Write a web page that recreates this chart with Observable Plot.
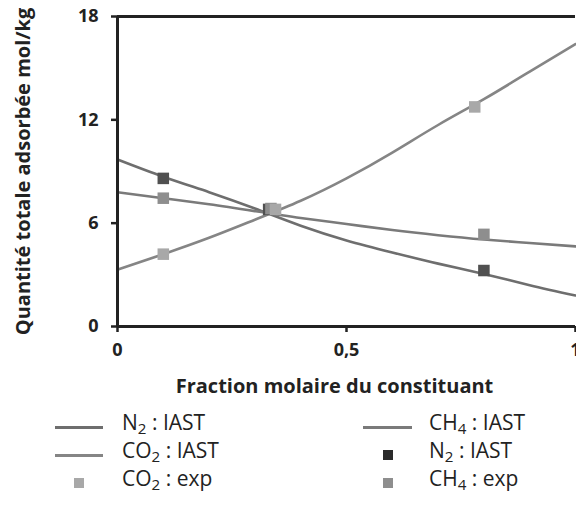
<!DOCTYPE html>
<html>
<head>
<meta charset="utf-8">
<script src="https://cdn.jsdelivr.net/npm/d3@7"></script>
<script src="https://cdn.jsdelivr.net/npm/@observablehq/plot@0.6"></script>
<style>
  body { margin: 0; background: #fff; font-family: "Open Sans", sans-serif; }
  #wrap { position: relative; width: 576px; height: 507px; overflow: hidden; }
  .lg { position: absolute; font-size: 21px; color: #222; line-height: 1; white-space: nowrap; }
  .lg sub { font-size: 0.72em; vertical-align: -0.25em; line-height: 0; }
  .ln { position: absolute; height: 3px; background: #777; }
  .sq { position: absolute; width: 10px; height: 10px; }
</style>
</head>
<body>
<div id="wrap"></div>
<script>
// x = fraction molaire du constituant
const xs = [0, 0.1, 0.2, 0.3, 0.4, 0.5, 0.6, 0.7, 0.8, 0.9, 1];
// IAST curves
const n2Iast  = [9.7, 8.7, 7.8, 6.85, 5.85, 5.0, 4.3, 3.65, 3.05, 2.4, 1.8];
const ch4Iast = [7.8, 7.45, 7.1, 6.7, 6.3, 5.95, 5.6, 5.3, 5.05, 4.85, 4.65];
const co2Iast = [3.3, 4.2, 5.15, 6.2, 7.3, 8.6, 10.1, 11.7, 13.2, 14.8, 16.4];
// experimental points
const n2ExpX  = [0.1, 0.33, 0.8];
const n2ExpY  = [8.6, 6.8, 3.25];
const ch4ExpX = [0.1, 0.335, 0.8];
const ch4ExpY = [7.45, 6.85, 5.35];
const co2ExpX = [0.1, 0.345, 0.78];
const co2ExpY = [4.2, 6.8, 12.75];
// ticks
const yTicks = [0, 6, 12, 18];
const xTicks = [0, 0.5, 1];
const xTickLabels = ["0", "0,5", "1"];

const toPts = (X, Y) => X.map((x, i) => ({x, y: Y[i]}));

const font = "Open Sans, sans-serif";
const plot = Plot.plot({
  width: 576,
  height: 400,
  marginLeft: 117,
  marginRight: 1,
  marginTop: 16,
  marginBottom: 74,
  style: {fontFamily: font, background: "#fff", overflow: "visible"},
  x: {domain: [0, 1]},
  y: {domain: [0, 18]},
  marks: [
    Plot.line(toPts(xs, n2Iast), {x: "x", y: "y", curve: "natural", stroke: "#6e6e6e", strokeWidth: 2.6}),
    Plot.line(toPts(xs, ch4Iast), {x: "x", y: "y", curve: "natural", stroke: "#7a7a7a", strokeWidth: 2.6}),
    Plot.line(toPts(xs, co2Iast), {x: "x", y: "y", curve: "natural", stroke: "#858585", strokeWidth: 2.6}),
    Plot.dot(toPts(n2ExpX, n2ExpY), {x: "x", y: "y", symbol: "square", r: 6.5, fill: "#505050"}),
    Plot.dot(toPts(ch4ExpX, ch4ExpY), {x: "x", y: "y", symbol: "square", r: 6.5, fill: "#8e8e8e"}),
    Plot.dot(toPts(co2ExpX, co2ExpY), {x: "x", y: "y", symbol: "square", r: 6.5, fill: "#a8a8a8"}),
    Plot.ruleY([18], {stroke: "#222", strokeWidth: 3}),
    Plot.ruleY([0], {stroke: "#222", strokeWidth: 3}),
    Plot.ruleX([0], {stroke: "#222", strokeWidth: 3}),
    Plot.axisY({ticks: yTicks, tickSize: 6, tickPadding: 13, fontSize: 18, fontWeight: "bold", stroke: "#222", strokeWidth: 2.5, color: "#222", label: null}),
    Plot.axisX({ticks: xTicks, tickFormat: (d) => xTickLabels[xTicks.indexOf(d)], tickSize: 6, tickPadding: 11, fontSize: 18, fontWeight: "bold", stroke: "#222", strokeWidth: 2.5, color: "#222", label: null}),
    Plot.text(["Quantité totale adsorbée mol/kg"], {frameAnchor: "left", textAnchor: "middle", rotate: -90, dx: -94, fontSize: 20, fontWeight: "bold", fill: "#222"}),
    Plot.text(["Fraction molaire du constituant"], {frameAnchor: "bottom", textAnchor: "middle", dx: -12, dy: 66, fontSize: 20, fontWeight: "bold", fill: "#222"})
  ]
});
const wrap = document.getElementById("wrap");
wrap.appendChild(plot);

// legend (HTML, below the chart)
const legendItems = [
  {kind: "line", color: "#6e6e6e", html: "N<sub>2</sub> : IAST", col: 0, row: 0},
  {kind: "line", color: "#858585", html: "CO<sub>2</sub> : IAST", col: 0, row: 1},
  {kind: "sq", color: "#a8a8a8", html: "CO<sub>2</sub> : exp", col: 0, row: 2},
  {kind: "line", color: "#7a7a7a", html: "CH<sub>4</sub> : IAST", col: 1, row: 0},
  {kind: "sq", color: "#2a2a2a", html: "N<sub>2</sub> : IAST", col: 1, row: 1},
  {kind: "sq", color: "#8e8e8e", html: "CH<sub>4</sub> : exp", col: 1, row: 2}
];
const colX = [{sym: 55, symW: 48, text: 122}, {sym: 363, symW: 49, text: 429}];
const rowY = [423, 451, 479];
for (const it of legendItems) {
  const c = colX[it.col], y = rowY[it.row];
  const d = document.createElement("div");
  if (it.kind === "line") {
    d.className = "ln";
    d.style.left = c.sym + "px"; d.style.width = c.symW + "px";
    d.style.top = (y + 3) + "px";
  } else {
    d.className = "sq";
    d.style.left = (c.sym + c.symW / 2 - 5) + "px";
    d.style.top = (y - 1) + "px";
  }
  d.style.background = it.color;
  wrap.appendChild(d);
  const t = document.createElement("div");
  t.className = "lg";
  t.style.left = c.text + "px";
  t.style.top = (y - 11) + "px";
  t.innerHTML = it.html;
  wrap.appendChild(t);
}
</script>
</body>
</html>
